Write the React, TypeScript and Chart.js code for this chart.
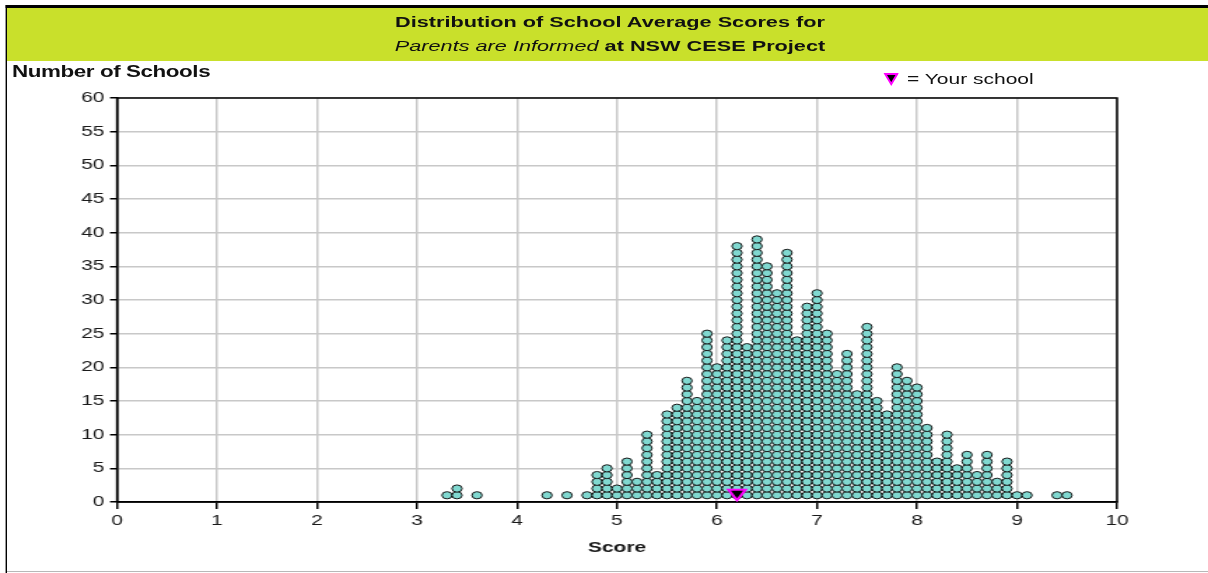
import React, { useEffect, useRef } from 'react';
import { Chart, registerables } from 'chart.js';

Chart.register(...registerables);

// ---- data ----
const binScores: number[] = [
  3.3, 3.4, 3.6, 4.3, 4.5, 4.7, 4.8, 4.9, 5.0, 5.1, 5.2, 5.3, 5.4, 5.5, 5.6, 5.7, 5.8, 5.9,
  6.0, 6.1, 6.2, 6.3, 6.4, 6.5, 6.6, 6.7, 6.8, 6.9, 7.0, 7.1, 7.2, 7.3, 7.4, 7.5, 7.6, 7.7,
  7.8, 7.9, 8.0, 8.1, 8.2, 8.3, 8.4, 8.5, 8.6, 8.7, 8.8, 8.9, 9.0, 9.1, 9.4, 9.5,
];
const binCounts: number[] = [
  1, 2, 1, 1, 1, 1, 4, 5, 2, 6, 3, 10, 4, 13, 14, 18, 15, 25,
  20, 24, 38, 23, 39, 35, 31, 37, 24, 29, 31, 25, 19, 22, 16, 26, 15, 13,
  20, 18, 17, 11, 6, 10, 5, 7, 4, 7, 3, 6, 1, 1, 1, 1,
];
const yourSchool = { score: 6.2, level: 1.3 };
const xAxisRange = [0, 10];
const yAxisRange = [0, 60];
const xTickStep = 1;
const yTickStep = 5;
const titleLine1 = 'Distribution of School Average Scores for';
const titleLine2Italic = 'Parents are Informed';
const titleLine2Rest = ' at NSW CESE Project';
const yAxisLabel = 'Number of Schools';
const xAxisLabel = 'Score';
const legendLabel = '= Your school';

// ---- layout (output is a horizontally stretched drawing) ----
const OUT_W = 1208;
const OUT_H = 573;
const IN_W = 863;
const S = OUT_W / IN_W;
const ix = (x: number) => x / S;
const FONT = "'Liberation Sans', Arial, Helvetica, sans-serif";

export default function App() {
  const canvasRef = useRef<HTMLCanvasElement | null>(null);

  useEffect(() => {
    const canvas = canvasRef.current;
    if (!canvas) return;
    document.body.style.margin = '0';

    const dots: { x: number; y: number }[] = [];
    binScores.forEach((s, i) => {
      for (let k = 1; k <= binCounts[i]; k++) dots.push({ x: s, y: k });
    });

    const frame = {
      id: 'plotFrame',
      beforeDatasetsDraw(chart: any) {
        const { ctx, chartArea } = chart;
        ctx.save();
        ctx.strokeStyle = '#000';
        ctx.lineWidth = 1.5;
        ctx.strokeRect(chartArea.left, chartArea.top, chartArea.right - chartArea.left, chartArea.bottom - chartArea.top);
        ctx.restore();
      },
    };

    const chart = new Chart(canvas, {
      type: 'scatter',
      data: {
        datasets: [
          {
            label: 'Your school',
            data: [{ x: yourSchool.score, y: yourSchool.level }],
            pointStyle: 'triangle',
            rotation: 180,
            pointRadius: 7,
            pointBackgroundColor: '#000000',
            pointBorderColor: '#ff00ff',
            pointBorderWidth: 2,
          },
          {
            label: 'Schools',
            data: dots,
            pointStyle: 'circle',
            pointRadius: 3.6,
            pointBackgroundColor: '#80d8d0',
            pointBorderColor: '#151515',
            pointBorderWidth: 1,
          },
        ],
      },
      options: {
        responsive: false,
        animation: false,
        devicePixelRatio: 1,
        layout: { padding: { left: 0, top: 98, right: IN_W - ix(1117), bottom: 0 } },
        plugins: {
          legend: { display: false },
          title: { display: false },
          tooltip: { enabled: false },
        },
        scales: {
          x: {
            type: 'linear',
            min: xAxisRange[0],
            max: xAxisRange[1],
            afterFit(scale: any) {
              scale.height = OUT_H - 502;
            },
            ticks: {
              stepSize: xTickStep,
              color: '#1a1a1a',
              font: { family: FONT, size: 15 },
              padding: 3,
              maxRotation: 0,
            },
            grid: {
              color: '#c8c8c8',
              lineWidth: 1.5,
              tickColor: '#000',
              tickLength: 7,
              tickWidth: 1.5,
            },
            border: { display: true, color: '#000', width: 1.5 },
            title: {
              display: true,
              text: xAxisLabel,
              color: '#1a1a1a',
              font: { family: FONT, size: 15, weight: 'bold' },
              padding: { top: 0, bottom: 16 },
            },
          },
          y: {
            type: 'linear',
            min: yAxisRange[0],
            max: yAxisRange[1],
            afterFit(scale: any) {
              scale.width = ix(117);
            },
            ticks: {
              stepSize: yTickStep,
              color: '#1a1a1a',
              font: { family: FONT, size: 15 },
              padding: 4,
            },
            grid: {
              color: '#c8c8c8',
              lineWidth: 1.5,
              tickColor: '#000',
              tickLength: 5,
              tickWidth: 1.5,
            },
            border: { display: true, color: '#000', width: 1.5 },
          },
        },
      },
      plugins: [frame],
    } as any);

    return () => chart.destroy();
  }, []);

  const abs = (style: React.CSSProperties): React.CSSProperties => ({ position: 'absolute', ...style });

  return (
    <div style={{ position: 'relative', width: OUT_W, height: OUT_H, overflow: 'hidden', background: '#fff' }}>
      <div
        style={{
          position: 'absolute',
          left: 0,
          top: 0,
          width: IN_W,
          height: OUT_H,
          transform: `scaleX(${S})`,
          transformOrigin: '0 0',
          fontFamily: FONT,
          color: '#111',
        }}
      >
        {/* outer frame */}
        <div style={abs({ left: ix(5), top: 5, width: IN_W - ix(5), height: 3, background: '#000' })} />
        <div style={abs({ left: ix(5), top: 5, width: ix(2), height: OUT_H - 5, background: '#000' })} />
        <div style={abs({ left: ix(7), top: 571, width: IN_W - ix(7), height: 1, background: '#b8b8b8' })} />
        {/* title band */}
        <div style={abs({ left: ix(7), top: 8, width: IN_W - ix(7), height: 53, background: '#c9e02b' })} />
        <div
          style={abs({
            left: ix(210),
            top: 12,
            width: ix(800),
            height: 20,
            lineHeight: '20px',
            textAlign: 'center',
            fontWeight: 'bold',
            fontSize: 15.5,
            whiteSpace: 'nowrap',
          })}
        >
          {titleLine1}
        </div>
        <div
          style={abs({
            left: ix(210),
            top: 36,
            width: ix(800),
            height: 20,
            lineHeight: '20px',
            textAlign: 'center',
            fontWeight: 'bold',
            fontSize: 15.5,
            whiteSpace: 'nowrap',
          })}
        >
          <span style={{ fontStyle: 'italic', fontWeight: 'normal' }}>{titleLine2Italic}</span>
          {titleLine2Rest}
        </div>
        {/* y axis label */}
        <div
          style={abs({
            left: ix(12),
            top: 62,
            height: 20,
            lineHeight: '20px',
            fontWeight: 'bold',
            fontSize: 16,
            letterSpacing: -0.3,
            whiteSpace: 'nowrap',
          })}
        >
          {yAxisLabel}
        </div>
        {/* legend */}
        <svg style={abs({ left: ix(883), top: 72, width: ix(16), height: 14 })} viewBox="0 0 16 14" preserveAspectRatio="none">
          <polygon points="2,2 14,2 8,12" fill="#000" stroke="#ff00ff" strokeWidth="2" />
        </svg>
        <div
          style={abs({
            left: ix(907),
            top: 69,
            height: 20,
            lineHeight: '20px',
            fontSize: 15,
            whiteSpace: 'nowrap',
          })}
        >
          {legendLabel}
        </div>
        <canvas ref={canvasRef} width={IN_W} height={OUT_H} style={abs({ left: 0, top: 0 })} />
      </div>
    </div>
  );
}
